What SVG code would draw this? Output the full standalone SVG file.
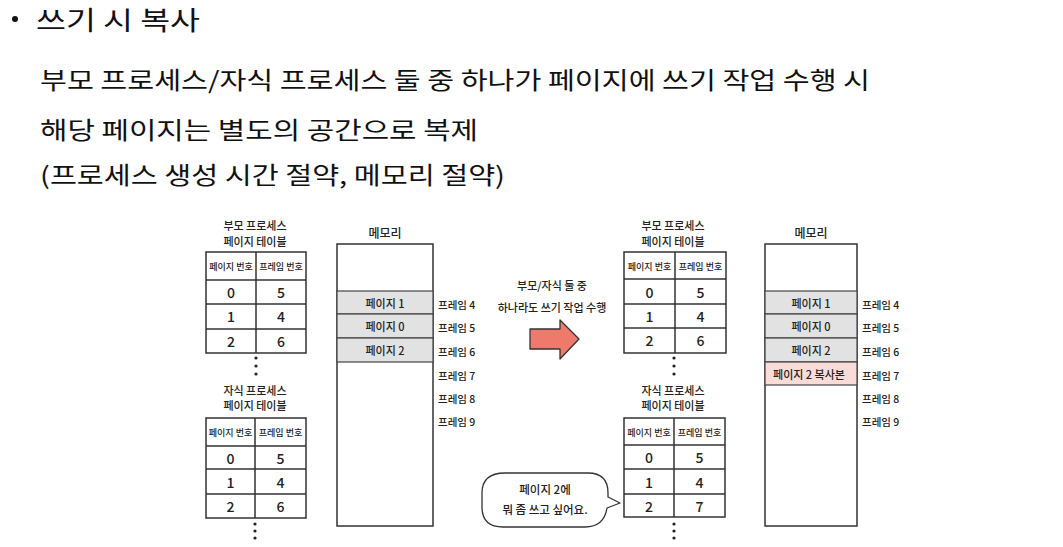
<svg xmlns="http://www.w3.org/2000/svg" width="1063" height="547" viewBox="0 0 1063 547">
<style>
.h{font-family:"Noto Sans CJK KR","Noto Sans",sans-serif;fill:#111;}
.t{font-family:"Noto Sans CJK KR","Noto Sans",sans-serif;fill:#222;text-anchor:middle;dominant-baseline:central;font-weight:500;}
.ttl{font-size:11px;}
.hd{font-size:9px;}
.num{font-size:14px;}
.mem{font-size:11px;}
.fr{font-family:"Noto Sans CJK KR","Noto Sans",sans-serif;fill:#222;font-size:10.5px;dominant-baseline:central;font-weight:500;}
.box{fill:#fff;stroke:#333;stroke-width:1.5;}
.ln{stroke:#333;stroke-width:1.5;fill:none;}
.pg{fill:#e2e2e2;stroke:#444;stroke-width:1.2;}
.cp{fill:#f9dcd8;stroke:#444;stroke-width:1.2;}
.dot{fill:#222;}
</style>
<rect width="1063" height="547" fill="#fff"/>

<g id="heading">
<circle cx="15" cy="19" r="3" fill="#111"/>
<text class="h" x="36" y="30" font-size="26" textLength="164" lengthAdjust="spacingAndGlyphs">쓰기 시 복사</text>
<text class="h" x="40" y="89" font-size="24" textLength="830" lengthAdjust="spacingAndGlyphs">부모 프로세스/자식 프로세스 둘 중 하나가 페이지에 쓰기 작업 수행 시</text>
<text class="h" x="40" y="139" font-size="24" textLength="438" lengthAdjust="spacingAndGlyphs">해당 페이지는 별도의 공간으로 복제</text>
<text class="h" x="40" y="184" font-size="24" textLength="465" lengthAdjust="spacingAndGlyphs">(프로세스 생성 시간 절약, 메모리 절약)</text>
</g>

<!-- Left parent table -->
<g id="left-parent-table">
<text class="t ttl" x="255" y="225">부모 프로세스</text>
<text class="t ttl" x="255" y="241">페이지 테이블</text>
<rect class="box" x="206" y="252" width="100" height="101"/>
<path class="ln" d="M256 252V353M206 280H306M206 304H306M206 329H306"/>
<text class="t hd" x="231" y="266">페이지 번호</text>
<text class="t hd" x="281" y="266">프레임 번호</text>
<text class="t num" x="231" y="292">0</text><text class="t num" x="281" y="292">5</text>
<text class="t num" x="231" y="316">1</text><text class="t num" x="281" y="316">4</text>
<text class="t num" x="231" y="341">2</text><text class="t num" x="281" y="341">6</text>
<circle class="dot" cx="256" cy="358" r="1.6"/><circle class="dot" cx="256" cy="366" r="1.6"/><circle class="dot" cx="256" cy="374" r="1.6"/>
</g>

<!-- Left child table -->
<g id="left-child-table">
<text class="t ttl" x="255" y="390">자식 프로세스</text>
<text class="t ttl" x="255" y="405">페이지 테이블</text>
<rect class="box" x="206" y="418" width="100" height="100"/>
<path class="ln" d="M255 418V518M206 446H306M206 469H306M206 494H306"/>
<text class="t hd" x="230.5" y="432">페이지 번호</text>
<text class="t hd" x="280.5" y="432">프레임 번호</text>
<text class="t num" x="230.5" y="458">0</text><text class="t num" x="280.5" y="458">5</text>
<text class="t num" x="230.5" y="482">1</text><text class="t num" x="280.5" y="482">4</text>
<text class="t num" x="230.5" y="506">2</text><text class="t num" x="280.5" y="506">6</text>
<circle class="dot" cx="255" cy="524" r="1.6"/><circle class="dot" cx="255" cy="531" r="1.6"/><circle class="dot" cx="255" cy="538" r="1.6"/>
</g>

<!-- Left memory -->
<g id="left-memory">
<text class="t" x="385" y="232" font-size="12">메모리</text>
<rect class="box" x="337" y="244" width="96" height="282"/>
<rect class="pg" x="337" y="291" width="96" height="23"/>
<rect class="pg" x="337" y="314" width="96" height="24"/>
<rect class="pg" x="337" y="338" width="96" height="24"/>
<text class="t mem" x="385" y="302.5">페이지 1</text>
<text class="t mem" x="385" y="326">페이지 0</text>
<text class="t mem" x="385" y="350">페이지 2</text>
<text class="fr" x="438" y="304">프레임 4</text>
<text class="fr" x="438" y="327">프레임 5</text>
<text class="fr" x="438" y="351">프레임 6</text>
<text class="fr" x="438" y="375">프레임 7</text>
<text class="fr" x="438" y="398">프레임 8</text>
<text class="fr" x="438" y="421">프레임 9</text>
</g>

<!-- Arrow -->
<g id="write-arrow">
<text class="t ttl" x="552" y="285">부모/자식 둘 중</text>
<text class="t ttl" x="552" y="307">하나라도 쓰기 작업 수행</text>
<path d="M530 329H560V320L579 339L560 359V349H530Z" fill="#ee7a6c" stroke="#333" stroke-width="1.3" stroke-linejoin="round"/>
</g>

<!-- Right parent table -->
<g id="right-parent-table">
<text class="t ttl" x="673" y="225">부모 프로세스</text>
<text class="t ttl" x="673" y="241">페이지 테이블</text>
<rect class="box" x="624" y="252" width="102" height="101"/>
<path class="ln" d="M675 252V353M624 279H726M624 304H726M624 328H726"/>
<text class="t hd" x="649.5" y="266">페이지 번호</text>
<text class="t hd" x="700.5" y="266">프레임 번호</text>
<text class="t num" x="649.5" y="292">0</text><text class="t num" x="700.5" y="292">5</text>
<text class="t num" x="649.5" y="316">1</text><text class="t num" x="700.5" y="316">4</text>
<text class="t num" x="649.5" y="340">2</text><text class="t num" x="700.5" y="340">6</text>
<circle class="dot" cx="674" cy="358" r="1.6"/><circle class="dot" cx="674" cy="366" r="1.6"/><circle class="dot" cx="674" cy="374" r="1.6"/>
</g>

<!-- Right child table -->
<g id="right-child-table">
<text class="t ttl" x="673" y="390">자식 프로세스</text>
<text class="t ttl" x="673" y="405">페이지 테이블</text>
<rect class="box" x="624" y="418" width="101" height="99"/>
<path class="ln" d="M674 418V517M624 445H725M624 469H725M624 494H725"/>
<text class="t hd" x="649" y="432">페이지 번호</text>
<text class="t hd" x="699.5" y="432">프레임 번호</text>
<text class="t num" x="649" y="457">0</text><text class="t num" x="699.5" y="457">5</text>
<text class="t num" x="649" y="482">1</text><text class="t num" x="699.5" y="482">4</text>
<text class="t num" x="649" y="506">2</text><text class="t num" x="699.5" y="506">7</text>
<circle class="dot" cx="674" cy="524" r="1.6"/><circle class="dot" cx="674" cy="531" r="1.6"/><circle class="dot" cx="674" cy="538" r="1.6"/>
</g>

<!-- Right memory -->
<g id="right-memory">
<text class="t" x="811" y="232" font-size="12">메모리</text>
<rect class="box" x="765" y="244" width="92" height="282"/>
<rect class="pg" x="765" y="291" width="92" height="23"/>
<rect class="pg" x="765" y="314" width="92" height="24"/>
<rect class="pg" x="765" y="338" width="92" height="24"/>
<rect class="cp" x="765" y="362" width="92" height="23"/>
<text class="t mem" x="811" y="302.5">페이지 1</text>
<text class="t mem" x="811" y="326">페이지 0</text>
<text class="t mem" x="811" y="350">페이지 2</text>
<text class="t mem" x="809" y="373.5">페이지 2 복사본</text>
<text class="fr" x="862" y="304">프레임 4</text>
<text class="fr" x="862" y="327">프레임 5</text>
<text class="fr" x="862" y="351">프레임 6</text>
<text class="fr" x="862" y="375">프레임 7</text>
<text class="fr" x="862" y="398">프레임 8</text>
<text class="fr" x="862" y="421">프레임 9</text>
</g>

<!-- Speech bubble -->
<g id="speech-bubble">
<path d="M505 473H588Q608 473 608 493V497L620 503L607 508Q604 527 585 527H503Q482 527 482 507V493Q482 473 505 473Z" fill="#fff" stroke="#333" stroke-width="1.3" stroke-linejoin="round"/>
<text class="t" x="545" y="489" font-size="11.5">페이지 2에</text>
<text class="t" x="545" y="509" font-size="11.5">뭐 좀 쓰고 싶어요.</text>
</g>
</svg>
